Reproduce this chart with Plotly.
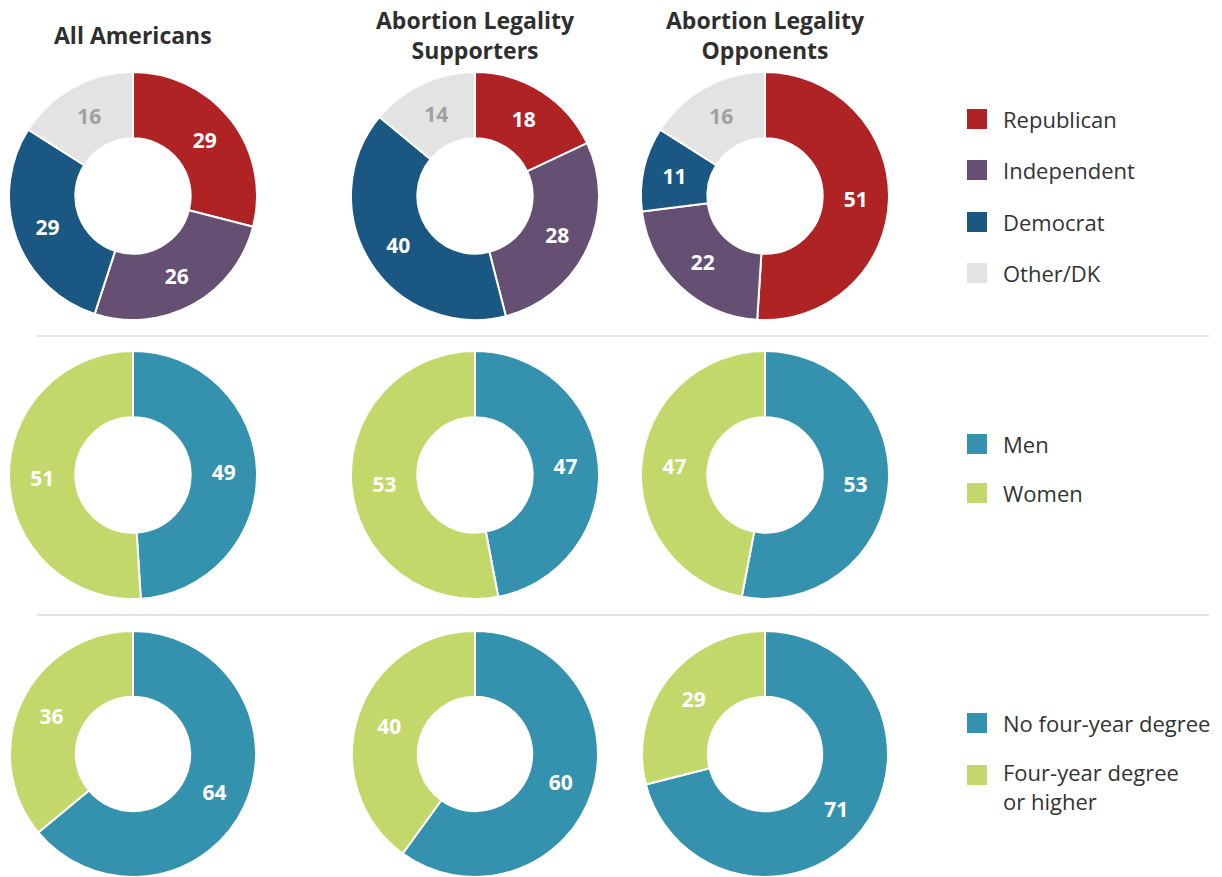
import plotly.graph_objects as go

# ---- data ----
col_titles = ["All Americans", "Abortion Legality<br>Supporters", "Abortion Legality<br>Opponents"]

party_labels = ["Republican", "Independent", "Democrat", "Other/DK"]
party_all = [29, 26, 29, 16]
party_sup = [18, 28, 40, 14]
party_opp = [51, 22, 11, 16]

gender_labels = ["Men", "Women"]
gender_all = [49, 51]
gender_sup = [47, 53]
gender_opp = [53, 47]

edu_labels = ["No four-year degree", "Four-year degree<br>or higher"]
edu_all = [64, 36]
edu_sup = [60, 40]
edu_opp = [71, 29]

party_colors = ["#b02325", "#654f73", "#1b5783", "#e3e3e3"]
party_text = ["white", "white", "white", "#a0a0a0"]
two_colors = ["#3592ae", "#c3d86b"]

W, H = 1222, 877
FONT = "Open Sans"

rows = [
    (party_labels, [party_all, party_sup, party_opp], party_colors, party_text),
    (gender_labels, [gender_all, gender_sup, gender_opp], two_colors, ["white", "white"]),
    (edu_labels, [edu_all, edu_sup, edu_opp], two_colors, ["white", "white"]),
]

col_cx = [133, 475, 765]
row_cy = [196, 475, 754]
row_r = [124, 124, 123]

fig = go.Figure()

for ri, (labels, series, colors, tcolors) in enumerate(rows):
    cy = row_cy[ri]
    r = row_r[ri]
    for ci, vals in enumerate(series):
        cx = col_cx[ci]
        x0, x1 = (cx - r) / W, (cx + r) / W
        y0, y1 = (H - (cy + r)) / H, (H - (cy - r)) / H
        fig.add_trace(go.Pie(
            labels=labels,
            values=vals,
            hole=0.465,
            sort=False,
            direction="clockwise",
            rotation=0,
            marker=dict(colors=colors, line=dict(color="white", width=2)),
            textinfo="value",
            textposition="inside",
            insidetextorientation="horizontal",
            insidetextfont=dict(family=FONT, size=21, color=tcolors, weight="bold"),
            showlegend=False,
            domain=dict(x=[max(0, x0), min(1, x1)], y=[max(0, y0), min(1, y1)]),
            hoverinfo="label+value",
        ))

# column titles
for ci, t in enumerate(col_titles):
    fig.add_annotation(
        x=col_cx[ci] / W, y=1 - 35 / H,
        xref="paper", yref="paper", text="<b>" + t + "</b>", showarrow=False,
        xanchor="center", yanchor="middle",
        font=dict(family=FONT, size=23, color="#2f2f2f"),
    )

# separators
for sy in [336, 615]:
    fig.add_shape(type="line", xref="paper", yref="paper",
                  x0=37 / W, x1=1209 / W, y0=1 - sy / H, y1=1 - sy / H,
                  line=dict(color="#e2e2e2", width=2))

# manual legends
legend_items = [
    (party_labels, party_colors, [119, 170, 222, 273]),
    (gender_labels, two_colors, [444, 493]),
    (edu_labels, two_colors, [723, 775]),
]
for labels, colors, ys in legend_items:
    for lab, col, ly in zip(labels, colors, ys):
        fig.add_shape(type="rect", xref="paper", yref="paper",
                      x0=967 / W, x1=987 / W, y0=1 - (ly + 10) / H, y1=1 - (ly - 10) / H,
                      fillcolor=col, line=dict(width=0))
        multi = "<br>" in lab
        fig.add_annotation(
            x=1001 / W, y=1 - (ly - 20) / H if multi else 1 - ly / H,
            xref="paper", yref="paper", text=lab, showarrow=False,
            xanchor="left", yanchor="top" if multi else "middle", align="left",
            font=dict(family=FONT, size=22, color="#333333"),
        )

fig.update_layout(
    width=W, height=H,
    margin=dict(l=0, r=0, t=0, b=0),
    paper_bgcolor="white", plot_bgcolor="white",
    font=dict(family=FONT),
)

fig.write_html("out.html", config={"displayModeBar": False},
               post_script="document.body.style.margin='0';document.body.style.overflow='hidden';")
